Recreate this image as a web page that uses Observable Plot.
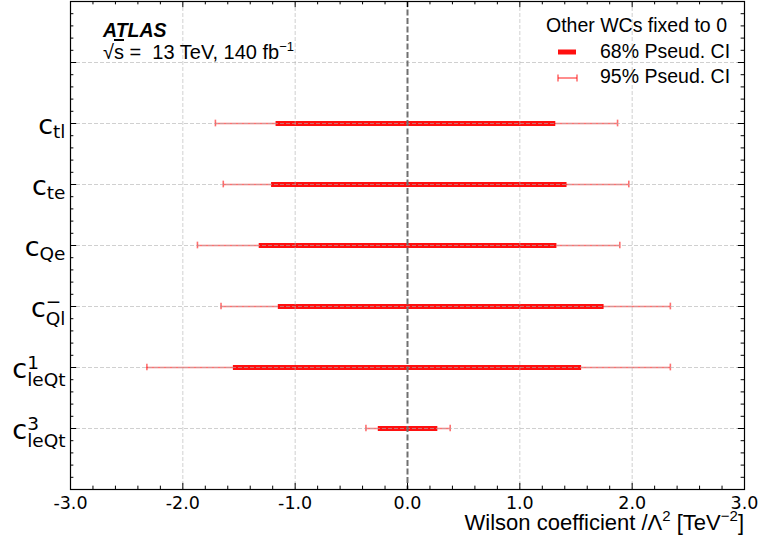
<!DOCTYPE html>
<html><head><meta charset="utf-8">
<script src="https://cdn.jsdelivr.net/npm/d3@7"></script>
<script src="https://cdn.jsdelivr.net/npm/@observablehq/plot@0.6"></script>
<style>body{margin:0;background:#fff}svg{display:block}</style>
</head><body><div id="chart"></div>
<script>
// ---- data ----
const coeffSub = ["tl", "te", "Qe", "Ql", "leQt", "leQt"];
const coeffSup = ["", "", "", "\u2212", "1", "3"];
const lo68 = [-1.17, -1.21, -1.32, -1.15, -1.55, -0.26];
const hi68 = [1.32, 1.42, 1.33, 1.75, 1.55, 0.27];
const lo95 = [-1.71, -1.64, -1.87, -1.66, -2.32, -0.37];
const hi95 = [1.87, 1.97, 1.89, 2.34, 2.34, 0.38];
const xTicks = [-3, -2, -1, 0, 1, 2, 3];
const xTickLabels = ["-3.0", "-2.0", "-1.0", "0.0", "1.0", "2.0", "3.0"];
const legendTitle = "Other WCs fixed to 0";
const legendLabels = ["68% Pseud. CI", "95% Pseud. CI"];

const rows = coeffSub.map((s, i) => ({
  sub: s, sup: coeffSup[i], pos: coeffSub.length - i,
  lo68: lo68[i], hi68: hi68[i], lo95: lo95[i], hi95: hi95[i]
}));

const W = 761, H = 536, mL = 70, mR = 17, mT = 1, mB = 47;
const yMajor = d3.range(1, 8);
const isInt = v => Math.abs(v - Math.round(v)) < 1e-6;
const yMinor = d3.range(0, 8.001, 0.2).filter(v => !isInt(v));
const xMinor = d3.range(-3, 3.001, 0.2).filter(v => !isInt(v));
const red = "#ff1010";
const gridStyle = {stroke: "#b0b0b0", strokeOpacity: 0.6, strokeDasharray: "4,2", strokeWidth: 1};

const chart = Plot.plot({
  width: W, height: H,
  marginLeft: mL, marginRight: mR, marginTop: mT, marginBottom: mB,
  x: {domain: [-3, 3]},
  y: {domain: [0, 8]},
  style: {fontFamily: "DejaVu Sans", background: "white", color: "black"},
  marks: [
    Plot.ruleY(rows, {x1: "lo95", x2: "hi95", y: "pos", stroke: red, strokeOpacity: 0.6, strokeWidth: 1.6}),
    Plot.ruleX(rows, {x: "lo95", y1: d => d.pos - 0.055, y2: d => d.pos + 0.055, stroke: red, strokeOpacity: 0.6, strokeWidth: 1.6}),
    Plot.ruleX(rows, {x: "hi95", y1: d => d.pos - 0.055, y2: d => d.pos + 0.055, stroke: red, strokeOpacity: 0.6, strokeWidth: 1.6}),
    Plot.ruleY(rows, {x1: "lo68", x2: "hi68", y: "pos", stroke: red, strokeWidth: 5}),
    Plot.ruleY(yMajor, gridStyle),
    Plot.ruleX([-2, -1, 1, 2], gridStyle),
    Plot.ruleX([0], {stroke: "#707070", strokeWidth: 2, strokeDasharray: "6,2.5"}),
    // inward ticks on all four sides
    Plot.ruleX(xTicks, {y1: 0, y2: 0.1, stroke: "black"}),
    Plot.ruleX(xTicks, {y1: 8, y2: 7.9, stroke: "black"}),
    Plot.ruleX(xMinor, {y1: 0, y2: 0.055, stroke: "black"}),
    Plot.ruleX(xMinor, {y1: 8, y2: 7.945, stroke: "black"}),
    Plot.ruleY(yMajor, {x1: -3, x2: -2.945, stroke: "black"}),
    Plot.ruleY(yMajor, {x1: 3, x2: 2.945, stroke: "black"}),
    Plot.ruleY(yMinor, {x1: -3, x2: -2.97, stroke: "black"}),
    Plot.ruleY(yMinor, {x1: 3, x2: 2.97, stroke: "black"}),
    Plot.axisX(xTicks, {tickSize: 0, tickPadding: 7, fontSize: 17.5, label: null,
      tickFormat: d => xTickLabels[xTicks.indexOf(d)]}),
    Plot.axisY(rows.map(d => d.pos), {tickSize: 0, tickPadding: 5, fontSize: 27, label: null,
      tickFormat: () => "c"}),
    Plot.frame({stroke: "black", strokeWidth: 1.2})
  ]
});
document.getElementById("chart").append(chart);

const svg = d3.select(chart);
// rebuild y labels with sub/superscripts
const yTexts = svg.selectAll('g[aria-label="y-axis tick label"] text').nodes();
yTexts.forEach((node, i) => {
  const r = rows[i];
  const t = d3.select(node);
  t.text(null);
  t.append("tspan").text("c").attr("dy", 2);
  if (r.sup) {
    const s = t.append("tspan").text(r.sup).attr("font-size", 18.5).attr("dy", -9);
    const w = s.node().getComputedTextLength();
    t.append("tspan").text(r.sub).attr("font-size", 18.5).attr("dx", -w).attr("dy", 17);
  } else {
    t.append("tspan").text(r.sub).attr("font-size", 18.5).attr("dy", 4);
  }
});

const sans = "Liberation Sans, Arial, sans-serif";
const ann = svg.append("g").attr("font-family", sans).attr("fill", "black").attr("text-anchor", "start");
// x axis title
const xt = ann.append("text").attr("x", 744).attr("y", 530).attr("text-anchor", "end").attr("font-size", 22);
xt.append("tspan").text("Wilson coefficient /\u039B");
xt.append("tspan").text("2").attr("font-size", 15).attr("dy", -9);
xt.append("tspan").text(" [TeV").attr("dy", 9);
xt.append("tspan").text("\u22122").attr("font-size", 15).attr("dy", -9);
xt.append("tspan").text("]").attr("dy", 9);

// ATLAS label
ann.append("text").attr("x", 103).attr("y", 37).attr("font-size", 19.5)
  .attr("font-weight", "bold").attr("font-style", "italic").text("ATLAS");
const en = ann.append("text").attr("x", 103).attr("y", 59).attr("font-size", 20);
en.append("tspan").text("\u221A");
en.append("tspan").text("s").style("text-decoration", "overline");
en.append("tspan").text(" =  13 TeV, 140 fb");
en.append("tspan").text("\u22121").attr("font-size", 13).attr("dy", -8);

// legend
ann.append("text").attr("x", 546).attr("y", 32).attr("font-size", 19.5).text(legendTitle);
ann.append("text").attr("x", 600).attr("y", 58).attr("font-size", 19.5).text(legendLabels[0]);
ann.append("text").attr("x", 600).attr("y", 83).attr("font-size", 19.5).text(legendLabels[1]);
const lg = svg.append("g");
lg.append("line").attr("x1", 558).attr("x2", 576).attr("y1", 52).attr("y2", 52)
  .attr("stroke", red).attr("stroke-width", 5);
lg.append("line").attr("x1", 558).attr("x2", 577).attr("y1", 78).attr("y2", 78)
  .attr("stroke", red).attr("stroke-opacity", 0.6).attr("stroke-width", 1.6);
[558, 577].forEach(x => lg.append("line").attr("x1", x).attr("x2", x).attr("y1", 74.6).attr("y2", 81.4)
  .attr("stroke", red).attr("stroke-opacity", 0.6).attr("stroke-width", 1.6));
</script>
</body></html>
